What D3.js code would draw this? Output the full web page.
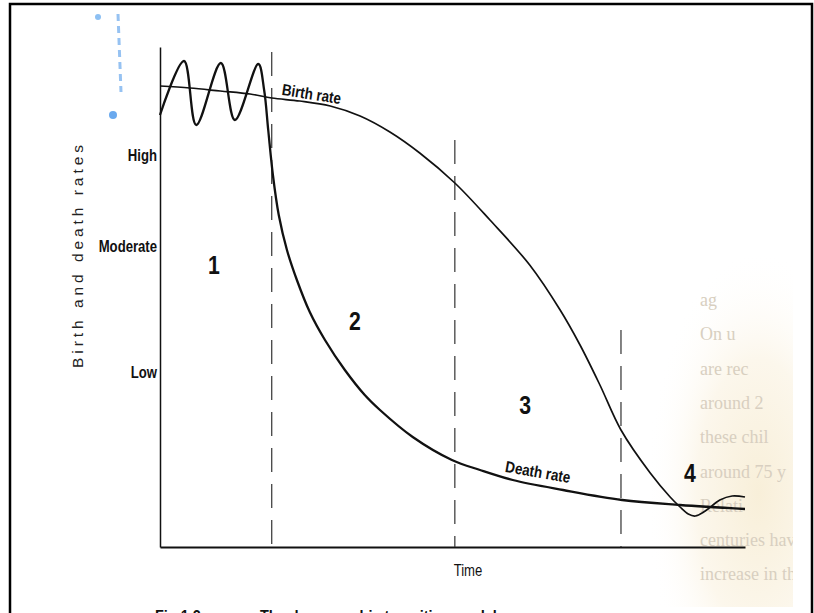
<!DOCTYPE html>
<html>
<head>
<meta charset="utf-8">
<script src="https://cdn.jsdelivr.net/npm/d3@7"></script>
<style>
  html, body { margin: 0; padding: 0; background: #ffffff; }
  svg { display: block; }
</style>
</head>
<body>
<svg id="chart" width="814" height="613"></svg>
<script>
// ---- data (time and rate on a 0–100 schematic scale) ----
const birthTime = [0, 5.1, 10.3, 15.4, 19.1, 23.9, 29.1, 34.2, 39.3, 44.4, 50.4, 56.4, 63.2, 68.4, 71.8, 75.2, 78.8, 83.8, 87.2, 88.9, 90.3, 91.5, 93.2, 95.7, 97.8, 100];
const birthRate = [92.2, 91.8, 91.2, 90.6, 89.8, 89.2, 88.2, 86.2, 83, 78.8, 72.8, 65.4, 56.4, 47.4, 40.4, 32.4, 23.4, 14.8, 10, 8, 6.6, 6.2, 7.2, 9.4, 10.2, 10];

const deathTime = [0, 4.1, 6.2, 10.4, 12.8, 16.8, 17.8, 18.5, 19.3, 20.3, 21.7, 23.4, 25.6, 28.2, 31.6, 35.0, 37.6, 43.2, 49.9, 54.7, 60.3, 68.9, 79, 88.9, 100];
const deathRate = [86.4, 97.2, 84.4, 96.8, 85.4, 96.6, 91.4, 83.4, 74.4, 66.4, 59.4, 53.4, 47, 41.4, 35.4, 30.4, 27.4, 22, 17.4, 15.4, 13.4, 11.4, 9.4, 8.4, 7.6];

const stageBounds = [19.1, 50.4, 78.8];
const stageBoundTops = [99, 81.4, 43.4];
const stageNames = ["1", "2", "3", "4"];

const rateTickValues = [78.4, 60.1, 35];
const rateTickLabels = ["High", "Moderate", "Low"];

const seriesNames = ["Birth rate", "Death rate"];
const axisTitleY = "Birth and death rates";
const axisTitleX = "Time";
const captionParts = ["Fig 1.2", "The demographic transition model"];
const marginText = ["ag", "On u", "are rec", "around 2", "these chil", "around 75 y", "Relati", "centuries have s", "increase in the"];

// ---- drawing ----
const svg = d3.select("#chart");
const sans = "'Liberation Sans', Arial, Helvetica, sans-serif";

function condense(sel, f) {
  sel.each(function () {
    const l = this.getComputedTextLength();
    d3.select(this).attr("textLength", l * f).attr("lengthAdjust", "spacingAndGlyphs");
  });
}

const x = d3.scaleLinear().domain([0, 100]).range([160, 745]);
const y = d3.scaleLinear().domain([0, 100]).range([547, 47]);

// page tint on the right (scanned page)
const defs = svg.append("defs");
const rg = defs.append("radialGradient").attr("id", "tint")
  .attr("cx", "0.8").attr("cy", "0.7").attr("r", "0.65");
rg.append("stop").attr("offset", "0").attr("stop-color", "#f8efd9");
rg.append("stop").attr("offset", "0.55").attr("stop-color", "#fcf7ec");
rg.append("stop").attr("offset", "1").attr("stop-color", "#ffffff").attr("stop-opacity", 0);
svg.append("rect").attr("x", 620).attr("y", 230).attr("width", 173).attr("height", 377)
  .attr("fill", "url(#tint)");

defs.append("clipPath").attr("id", "pageClip")
  .append("rect").attr("x", 600).attr("y", 250).attr("width", 193).attr("height", 357);

svg.append("g").attr("clip-path", "url(#pageClip)")
  .selectAll("text").data(marginText).join("text")
  .attr("x", 700)
  .attr("y", (d, i) => 306 + i * 34.3)
  .attr("font-family", "'Liberation Serif', 'DejaVu Serif', serif")
  .attr("font-size", 18)
  .attr("fill", "#d8cfc0")
  .text(d => d);

// blue ink marks top-left
svg.append("line").attr("x1", 118).attr("y1", 14).attr("x2", 121).attr("y2", 92)
  .attr("stroke", "#7db4ef").attr("stroke-width", 3).attr("stroke-dasharray", "7,5").attr("opacity", 0.8);
svg.append("circle").attr("cx", 113).attr("cy", 115).attr("r", 4).attr("fill", "#6aa9ee");
svg.append("circle").attr("cx", 98).attr("cy", 17).attr("r", 3).attr("fill", "#8dc0f3");

// frame
svg.append("rect").attr("x", 10).attr("y", 4).attr("width", 802).attr("height", 640)
  .attr("fill", "none").attr("stroke", "#000").attr("stroke-width", 2.5);

// axes
const yAxis = d3.axisLeft(y).tickValues(rateTickValues)
  .tickFormat((d, i) => rateTickLabels[i]).tickSize(0).tickPadding(3);
const gy = svg.append("g").attr("transform", `translate(${x(0)},0)`).call(yAxis);
gy.select(".domain").attr("stroke", "#111").attr("stroke-width", 1.5);
gy.selectAll("text").attr("font-family", sans).attr("font-size", 16)
  .attr("font-weight", "bold").attr("fill", "#111");
condense(gy.selectAll("text"), 0.82);

const xAxis = d3.axisBottom(x).tickValues([]).tickSizeOuter(0);
const gx = svg.append("g").attr("transform", `translate(0,${y(0)})`).call(xAxis);
gx.select(".domain").attr("stroke", "#111").attr("stroke-width", 2);

// axis titles
svg.append("text")
  .attr("transform", `translate(83,${(145 + 368) / 2}) rotate(-90)`)
  .attr("text-anchor", "middle")
  .attr("font-family", sans)
  .attr("font-size", 15.5)
  .attr("fill", "#222")
  .attr("textLength", 223).attr("lengthAdjust", "spacing")
  .text(axisTitleY);

const tX = svg.append("text")
  .attr("x", 468).attr("y", 576)
  .attr("text-anchor", "middle")
  .attr("font-family", sans).attr("font-size", 16).attr("fill", "#111")
  .text(axisTitleX);
condense(tX, 0.82);

// stage boundaries
svg.append("g").selectAll("line").data(stageBounds).join("line")
  .attr("x1", d => x(d)).attr("x2", d => x(d))
  .attr("y1", (d, i) => y(stageBoundTops[i])).attr("y2", y(0))
  .attr("stroke", "#333").attr("stroke-width", 1.2)
  .attr("stroke-dasharray", "24,12");

// curves
const line = d3.line().curve(d3.curveCatmullRom.alpha(0.5));
const birthPts = birthTime.map((t, i) => [x(t), y(birthRate[i])]);
const deathPts = deathTime.map((t, i) => [x(t), y(deathRate[i])]);

svg.append("path").attr("d", line(birthPts))
  .attr("fill", "none").attr("stroke", "#111").attr("stroke-width", 1.7);
svg.append("path").attr("d", line(deathPts))
  .attr("fill", "none").attr("stroke", "#111").attr("stroke-width", 2.3);

// series labels
const sl1 = svg.append("text")
  .attr("transform", `translate(${x(25.9)},${y(90.6)}) rotate(9)`)
  .attr("text-anchor", "middle").attr("dominant-baseline", "central")
  .attr("font-family", sans).attr("font-size", 16).attr("font-weight", "bold").attr("fill", "#111")
  .text(seriesNames[0]);
const sl2 = svg.append("text")
  .attr("transform", `translate(${x(64.6)},${y(15)}) rotate(10)`)
  .attr("text-anchor", "middle").attr("dominant-baseline", "central")
  .attr("font-family", sans).attr("font-size", 16).attr("font-weight", "bold").attr("fill", "#111")
  .text(seriesNames[1]);
condense(sl1, 0.84);
condense(sl2, 0.84);

// stage numbers
const stagePos = [[9.2, 54.6], [33.3, 43.4], [62.4, 26.6], [90.6, 13]];
const sn = svg.append("g").selectAll("text").data(stageNames).join("text")
  .attr("x", (d, i) => x(stagePos[i][0]))
  .attr("y", (d, i) => y(stagePos[i][1]))
  .attr("text-anchor", "middle")
  .attr("font-family", sans).attr("font-size", 25).attr("font-weight", "bold").attr("fill", "#111")
  .text(d => d);
condense(sn, 0.85);

// caption (cut off by the bottom of the picture)
const c1 = svg.append("text").attr("x", 155).attr("y", 622)
  .attr("font-family", sans).attr("font-size", 17).attr("font-weight", "bold").attr("fill", "#111")
  .text(captionParts[0]);
const c2 = svg.append("text").attr("x", 260).attr("y", 622)
  .attr("font-family", sans).attr("font-size", 17).attr("font-weight", "bold").attr("fill", "#111")
  .text(captionParts[1]);
condense(c1, 0.85);
condense(c2, 0.85);
</script>
</body>
</html>
